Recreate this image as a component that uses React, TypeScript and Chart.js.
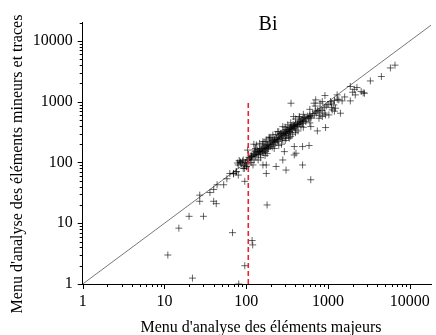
import React, { useEffect, useRef } from 'react';
import { Chart, registerables } from 'chart.js';
Chart.register(...registerables);

const chartTitle = 'Bi';
const xAxisTitle = "Menu d'analyse des éléments majeurs";
const yAxisTitle = "Menu d'analyse des éléments mineurs et traces";

// Outlying / sparse points
const sparseX = [11, 15, 22, 20, 30, 27, 27, 36, 40, 40, 43, 44, 53, 58, 68, 96, 96, 81, 118, 120, 180, 3300, 4500, 5800, 6600, 2100, 2700];
const sparseY = [3, 8.3, 1.25, 13, 13, 29, 23, 32, 36, 23, 21, 43, 43, 54, 7, 49, 2.0, 1.0, 5.2, 4.4, 20, 2200, 2600, 3600, 4000, 1600, 1400];

// Main cloud
const cloudX = [1875, 2259, 2547, 2797, 2158, 2004, 1294, 918, 708, 676, 852, 1074, 1180, 1355, 1489, 1875, 353, 380, 445, 511, 587, 616, 535, 776, 852, 935, 1026, 1127, 1237, 1420, 741, 935, 616, 280, 322, 353, 387, 425, 467, 489, 212, 243, 267, 307, 337, 370, 406, 133, 146, 160, 176, 193, 222, 243, 280, 307, 337, 387, 489, 587, 406, 387, 293, 280, 232, 307, 489, 176, 160, 176, 616, 127, 133, 146, 116, 111, 105, 92, 84, 80, 76, 70, 63, 80, 101, 92, 121, 124];
const cloudY = [1782, 1714, 1472, 1383, 1297, 1435, 1297, 1265, 1074, 946, 1007, 1007, 887, 1074, 1033, 1033, 946, 570, 570, 535, 570, 535, 472, 535, 570, 607, 607, 734, 782, 647, 331, 376, 390, 390, 416, 366, 390, 416, 390, 443, 284, 323, 303, 284, 323, 292, 344, 195, 207, 221, 235, 251, 235, 221, 235, 251, 251, 183, 183, 190, 142, 133, 151, 110, 86, 75, 91, 66, 91, 91, 52, 161, 133, 151, 125, 110, 110, 110, 103, 91, 71, 66, 66, 62, 86, 80, 91, 200];

// Dense band along the diagonal
const bandX = [105, 108, 112, 115, 118, 122, 125, 128, 130, 135, 138, 140, 142, 145, 148, 150, 152, 155, 158, 160, 162, 165, 168, 170, 172, 175, 178, 180, 182, 185, 188, 190, 195, 198, 200, 205, 208, 210, 215, 218, 220, 225, 230, 235, 240, 245, 250, 255, 260, 265, 270, 275, 280, 285, 290, 295, 300, 305, 310, 315, 320, 330, 335, 340, 345, 350, 355, 360, 370, 375, 380, 390, 395, 400, 410, 420, 430, 440, 450, 460, 470, 480, 490, 500, 520, 540, 560, 580, 600, 620, 650, 680, 700, 720, 750, 780, 800, 850, 900, 950, 1000, 1100, 1200, 85, 88, 90, 95, 98, 100, 102, 78, 82, 75, 70, 95, 104, 170, 190];
const bandY = [95, 120, 118, 130, 125, 140, 135, 150, 128, 145, 160, 150, 135, 165, 155, 140, 170, 160, 150, 175, 145, 185, 160, 170, 150, 190, 175, 165, 200, 180, 170, 195, 210, 185, 220, 200, 180, 230, 215, 195, 240, 225, 210, 250, 235, 260, 240, 280, 255, 300, 270, 250, 310, 290, 330, 300, 280, 320, 350, 300, 340, 320, 370, 350, 310, 380, 340, 400, 360, 420, 390, 410, 370, 430, 400, 450, 420, 480, 430, 470, 500, 450, 520, 480, 550, 500, 580, 540, 600, 560, 640, 600, 700, 650, 720, 680, 760, 720, 800, 850, 900, 950, 1050, 100, 95, 105, 90, 100, 85, 110, 98, 108, 70, 65, 80, 160, 220, 260];

// Wider scatter around the band
const spreadX = [130, 150, 160, 180, 200, 220, 250, 250, 300, 300, 350, 350, 400, 400, 450, 500, 500, 600, 600, 700, 800, 800, 900, 1100, 1300, 1600, 1200, 140, 170, 115, 125, 230, 270, 330, 430];
const spreadY = [170, 120, 200, 140, 260, 170, 320, 190, 380, 230, 450, 270, 520, 310, 560, 620, 380, 750, 450, 850, 950, 600, 650, 800, 1100, 1200, 700, 110, 130, 100, 110, 290, 200, 260, 330];

const diagonalValues = [1, 20000];
const cutoffX = 106;
const cutoffY = [1, 1050];

const xTickValues = [1, 2, 3, 4, 5, 6, 7, 8, 9, 10, 20, 30, 40, 50, 60, 70, 80, 90, 100, 200, 300, 400, 500, 600, 700, 800, 900, 1000, 2000, 3000, 4000, 5000, 6000, 7000, 8000, 9000, 10000];
const yTickValues = [...xTickValues, 20000];

const isMajor = (v: number) => Math.abs(Math.log10(v) - Math.round(Math.log10(v))) < 1e-9;

export default function App() {
  const ref = useRef<HTMLCanvasElement>(null);
  useEffect(() => {
    const canvas = ref.current!;
    const font = '"Liberation Serif", "Times New Roman", serif';
    const points = [
      ...sparseX.map((x, i) => ({ x, y: sparseY[i] })),
      ...cloudX.map((x, i) => ({ x, y: cloudY[i] })),
      ...bandX.map((x, i) => ({ x, y: bandY[i] })),
      ...spreadX.map((x, i) => ({ x, y: spreadY[i] })),
    ];
    const tickPlugin = {
      id: 'customTicks',
      afterDraw(chart: any) {
        const c = chart.ctx as CanvasRenderingContext2D;
        const xs = chart.scales.x;
        const ys = chart.scales.y;
        c.save();
        c.strokeStyle = '#000';
        c.lineWidth = 1;
        c.beginPath();
        for (const v of xTickValues) {
          const p = Math.round(xs.getPixelForValue(v)) + 0.5;
          const len = isMajor(v) ? 5 : 3;
          c.moveTo(p, xs.top);
          c.lineTo(p, xs.top + len);
        }
        for (const v of yTickValues) {
          const p = Math.round(ys.getPixelForValue(v)) + 0.5;
          const len = isMajor(v) ? 5 : 3;
          c.moveTo(ys.right, p);
          c.lineTo(ys.right - len, p);
        }
        c.stroke();
        c.fillStyle = '#000';
        c.textAlign = 'center';
        c.textBaseline = 'alphabetic';
        c.font = `20px ${font}`;
        c.fillText(chartTitle, 268, 30);
        c.font = `16px ${font}`;
        c.fillText(xAxisTitle, 261, 332);
        c.translate(22, 164);
        c.rotate(-Math.PI / 2);
        c.fillText(yAxisTitle, 0, 0);
        c.restore();
      },
    };
    const axisCommon = (ticksValues: number[]) => ({
      type: 'logarithmic' as const,
      grid: { display: true, drawOnChartArea: false, drawTicks: true, tickLength: 5, color: 'transparent', tickColor: 'transparent' },
      border: { display: true, color: '#000', width: 1 },
      afterBuildTicks: (s: any) => {
        s.ticks = ticksValues.filter((v) => v >= s.min && v <= s.max).map((v) => ({ value: v, major: isMajor(v) }));
      },
    });
    const chart = new Chart(canvas, {
      type: 'scatter',
      data: {
        datasets: [
          {
            type: 'line',
            data: diagonalValues.map((v) => ({ x: v, y: v })),
            borderColor: '#555',
            borderWidth: 0.8,
            pointRadius: 0,
            order: 2,
          },
          {
            type: 'line',
            data: cutoffY.map((y) => ({ x: cutoffX, y })),
            borderColor: '#e3262b',
            borderWidth: 1.6,
            borderDash: [5, 3],
            pointRadius: 0,
            order: 0,
          },
          {
            type: 'scatter',
            data: points,
            pointStyle: 'cross',
            pointRadius: 3.5,
            borderColor: 'rgba(0,0,0,0.6)',
            backgroundColor: 'transparent',
            borderWidth: 1,
            order: 1,
          },
        ] as any,
      },
      options: {
        animation: false,
        responsive: false,
        layout: { padding: { top: 22.7, right: 1, left: 0, bottom: 0 } },
        plugins: { legend: { display: false }, tooltip: { enabled: false } },
        scales: {
          x: {
            ...axisCommon(xTickValues),
            position: 'bottom',
            min: 1,
            max: 18200,
            ticks: {
              autoSkip: false,
              maxRotation: 0,
              padding: 3,
              color: '#000',
              font: { family: font, size: 16 },
              callback: (v: any) => (isMajor(Number(v)) ? String(v) : ''),
            },
            afterFit: (s: any) => { s.height = 51; },
          },
          y: {
            ...axisCommon(yTickValues),
            position: 'left',
            min: 1,
            max: 20000,
            ticks: {
              autoSkip: false,
              padding: 5,
              color: '#000',
              font: { family: font, size: 16 },
              callback: (v: any) => (isMajor(Number(v)) ? String(v) : ''),
            },
            afterFit: (s: any) => { s.width = 82.7; },
          },
        },
      } as any,
      plugins: [tickPlugin],
    });
    return () => chart.destroy();
  }, []);
  return (
    <div style={{ position: 'absolute', left: 0, top: 0, width: 436, height: 335, background: '#fff' }}>
      <canvas ref={ref} width={436} height={335} style={{ width: 436, height: 335 }} />
    </div>
  );
}
